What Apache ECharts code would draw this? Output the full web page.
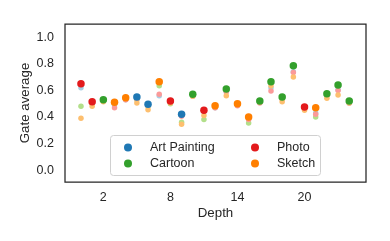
<!DOCTYPE html>
<html>
<head>
<meta charset="utf-8">
<script src="https://cdn.jsdelivr.net/npm/echarts@6/dist/echarts.min.js"></script>
<style>
html,body{margin:0;padding:0;background:#fff;}
#chart{width:390px;height:241px;}
</style>
</head>
<body>
<div id="chart"></div>
<script>
const depths = [0,1,2,3,4,5,6,7,8,9,10,11,12,13,14,15,16,17,18,19,20,21,22,23,24];
const artPainting = [0.62,0.505,0.52,0.49,0.53,0.55,0.495,0.56,0.51,0.42,0.56,0.44,0.47,0.59,0.49,0.385,0.51,0.62,0.54,0.74,0.47,0.43,0.56,0.605,0.505];
const cartoon     = [0.48,0.50,0.53,0.50,0.535,0.53,0.48,0.635,0.50,0.36,0.57,0.38,0.475,0.61,0.49,0.355,0.52,0.665,0.55,0.785,0.465,0.40,0.575,0.64,0.52];
const photo       = [0.65,0.515,0.52,0.47,0.53,0.535,0.485,0.57,0.52,0.405,0.555,0.45,0.47,0.59,0.485,0.38,0.505,0.595,0.535,0.735,0.475,0.42,0.56,0.60,0.505];
const sketch      = [0.39,0.48,0.515,0.51,0.545,0.505,0.455,0.665,0.505,0.345,0.555,0.41,0.485,0.56,0.50,0.40,0.51,0.635,0.515,0.70,0.45,0.47,0.54,0.565,0.505];
const seriesNames = ['Art Painting','Cartoon','Photo','Sketch'];
const xTickLabels = [2,8,14,20];
const yTickLabels = [0,0.2,0.4,0.6,0.8,1.0];

const allValues = [artPainting, cartoon, photo, sketch];
const darkColors = ['#1f78b4','#33a02c','#e31a1c','#ff7f00'];
const lightColors = ['#a6cee3','#b2df8a','#fb9a99','#fdbf6f'];

function argmaxAt(j){
  let best = 0;
  for (let i = 1; i < allValues.length; i++) if (allValues[i][j] > allValues[best][j]) best = i;
  return best;
}
const winners = depths.map((d,j)=>argmaxAt(j));

const series = [];
allValues.forEach((vals,i)=>{
  series.push({
    name: seriesNames[i] + ' (other)',
    type: 'scatter',
    symbolSize: 5.5,
    itemStyle: {color: lightColors[i], opacity: 1},
    data: depths.map((d,j)=> winners[j] !== i ? [d, vals[j]] : null).filter(x=>x),
    z: 2
  });
});
allValues.forEach((vals,i)=>{
  series.push({
    name: seriesNames[i],
    type: 'scatter',
    symbolSize: 7.5,
    itemStyle: {color: darkColors[i], opacity: 1},
    data: depths.map((d,j)=> winners[j] === i ? [d, vals[j]] : null).filter(x=>x),
    z: 2
  });
});

const font = 'Liberation Sans, Arial, sans-serif';
const txt = '#262626';
const chart = echarts.init(document.getElementById('chart'), null, {renderer:'canvas'});
chart.setOption({
  animation: false,
  backgroundColor: '#fff',
  grid: {left:65, right:24, top:24, bottom:59, show:true, borderColor:'#262626', borderWidth:1.25, backgroundColor:'transparent'},
  xAxis: {
    type:'value', min:-1.43, max:25.5,
    name:'Depth', nameLocation:'middle', nameGap:25, nameMoveOverlap:false,
    nameTextStyle:{color:txt, fontSize:13.3, fontFamily:font},
    axisLine:{show:false}, axisTick:{show:false}, splitLine:{show:false},
    axisLabel:{customValues:xTickLabels, color:txt, fontSize:12.5, fontFamily:font, margin:9}
  },
  yAxis: {
    type:'value', min:-0.09, max:1.1,
    name:'Gate average', nameLocation:'middle', nameGap:33, nameMoveOverlap:false,
    nameTextStyle:{color:txt, fontSize:13.3, fontFamily:font},
    axisLine:{show:false}, axisTick:{show:false}, splitLine:{show:false},
    axisLabel:{customValues:yTickLabels, formatter:(v)=>Number(v).toFixed(1), color:txt, fontSize:12.5, fontFamily:font, margin:11}
  },
  graphic: [{
    type:'rect', shape:{x:110.5, y:135.5, width:210, height:40, r:3},
    style:{fill:'rgba(255,255,255,0.85)', stroke:'#d0d0d0', lineWidth:1}, z:10
  }],
  legend: [
    {data:['Art Painting','Cartoon'], orient:'vertical', left:119, top:136, icon:'circle', itemWidth:8, itemHeight:8, itemGap:3, z:20,
     textStyle:{color:txt, fontSize:12.5, fontFamily:font, padding:[0,0,0,13]}},
    {data:['Photo','Sketch'], orient:'vertical', left:246, top:136, icon:'circle', itemWidth:8, itemHeight:8, itemGap:3, z:20,
     textStyle:{color:txt, fontSize:12.5, fontFamily:font, padding:[0,0,0,13]}}
  ],
  series: series
});
</script>
</body>
</html>
